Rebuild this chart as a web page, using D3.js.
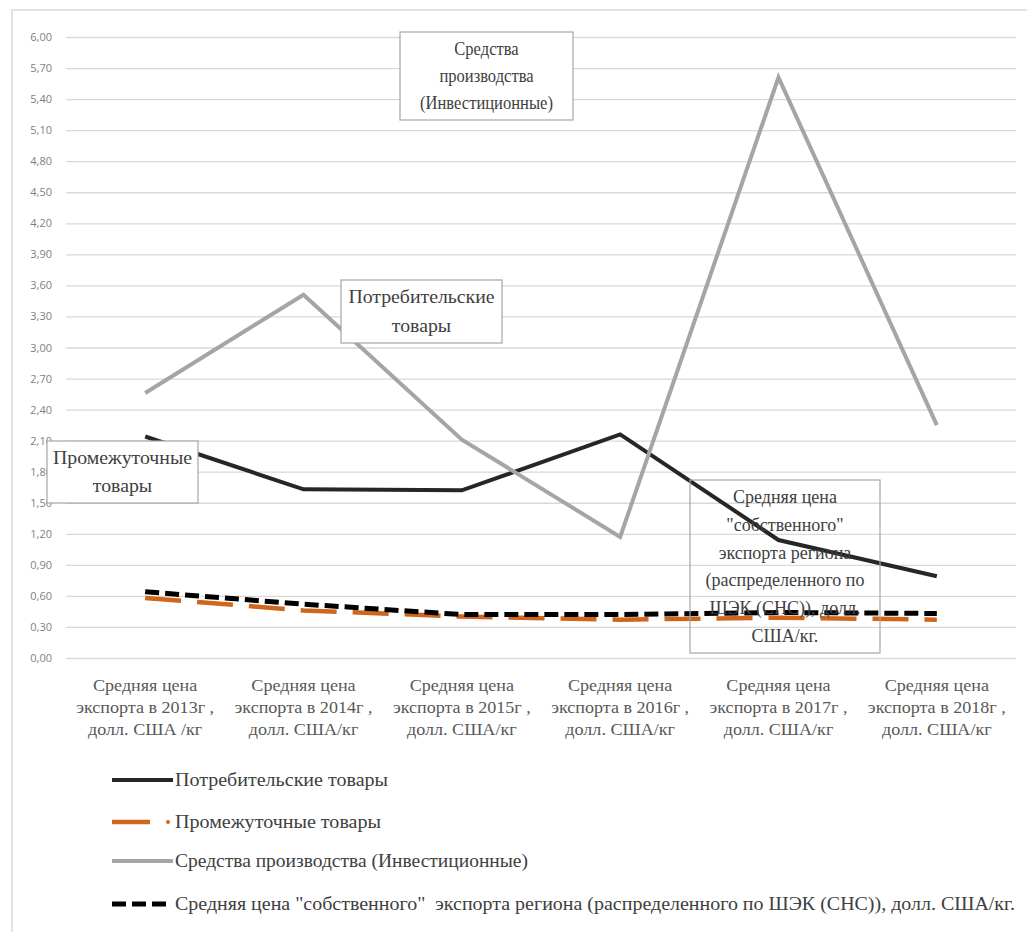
<!DOCTYPE html>
<html>
<head>
<meta charset="utf-8">
<script src="https://cdn.jsdelivr.net/npm/d3@7"></script>
<style>
  body { margin: 0; background: #fff; }
  svg { display: block; }
</style>
</head>
<body>
<svg width="1027" height="932"></svg>
<script>
var years = ["2013", "2014", "2015", "2016", "2017", "2018"];
var catLines = [
  ["Средняя цена", "экспорта в 2013г ,", "долл. США /кг"],
  ["Средняя цена", "экспорта в 2014г ,", "долл. США/кг"],
  ["Средняя цена", "экспорта в 2015г ,", "долл. США/кг"],
  ["Средняя цена", "экспорта в 2016г ,", "долл. США/кг"],
  ["Средняя цена", "экспорта в 2017г ,", "долл. США/кг"],
  ["Средняя цена", "экспорта в 2018г ,", "долл. США/кг"]
];
var consumer = [2.14, 1.63, 1.62, 2.16, 1.14, 0.79];
var intermediate = [0.58, 0.46, 0.40, 0.37, 0.39, 0.37];
var capital = [2.56, 3.51, 2.11, 1.17, 5.61, 2.25];
var average = [0.64, 0.52, 0.42, 0.42, 0.44, 0.43];
var yTicks = d3.range(0, 21).map(function(i) { return +(i * 0.3).toFixed(2); });

var SERIF = "'Liberation Serif', 'Times New Roman'";

var series = [
  {name: "Потребительские товары", values: consumer, color: "#262626", width: 4, dash: null, legW: 213},
  {name: "Промежуточные товары", values: intermediate, color: "#d0651c", width: 4.5, dash: "36,16", legW: 206},
  {name: "Средства производства (Инвестиционные)", values: capital, color: "#a5a5a5", width: 4, dash: null, legW: 353},
  {name: "Средняя цена \"собственного\"  экспорта региона (распределенного по ШЭК (СНС)), долл. США/кг.", values: average, color: "#000", width: 5, dash: "14,6", legW: 840}
];

var svg = d3.select("svg"),
    margin = {top: 37, left: 66, right: 11, bottom: 274},
    width = 1027 - margin.left - margin.right,
    height = 932 - margin.top - margin.bottom;

// chart frame
svg.append("path")
    .attr("d", "M12,932V10H1027")
    .attr("fill", "none")
    .attr("stroke", "#d9d9d9")
    .attr("stroke-width", 1.5);

var x = d3.scaleBand().domain(years).range([0, width]);
var y = d3.scaleLinear().domain([0, 6]).range([height, 0]);

var g = svg.append("g")
    .attr("transform", "translate(" + margin.left + "," + margin.top + ")");

// grid + y axis
var yAxis = d3.axisLeft(y)
    .tickValues(yTicks)
    .tickSize(-width)
    .tickFormat(function(d) { return d3.format(".2f")(d).replace(".", ","); });

g.append("g")
    .attr("class", "axis axis--y")
    .call(yAxis)
    .call(function(s) {
      s.select(".domain").remove();
      s.selectAll(".tick line").attr("stroke", "#d9d9d9").attr("stroke-width", 1.3);
      s.selectAll(".tick text")
        .attr("x", -14)
        .style("font-family", "'Open Sans', 'Liberation Sans', sans-serif")
        .style("font-size", "11px")
        .attr("fill", "#7f7f7f");
    });

// widen text around its centre (source font is wider than Times)
function stretched(sel, cx, k) {
  sel.attr("transform", "translate(" + cx + ",0) scale(" + k + ",1) translate(" + (-cx) + ",0)");
}

// x labels
var xl = g.append("g")
    .attr("transform", "translate(0," + height + ")");
xl.selectAll("text")
    .data(years)
    .enter().append("text")
    .attr("y", 33)
    .attr("text-anchor", "middle")
    .style("font-family", SERIF)
    .style("font-size", "16px")
    .attr("fill", "#595959")
    .each(function(d, i) {
      var cx = x(d) + x.bandwidth() / 2;
      var t = d3.select(this).call(stretched, cx, 1.13);
      catLines[i].forEach(function(line, j) {
        t.append("tspan")
          .attr("x", cx)
          .attr("dy", j === 0 ? 0 : 22)
          .text(line);
      });
    });

var line = d3.line()
    .x(function(d, i) { return x(years[i]) + x.bandwidth() / 2; })
    .y(function(d) { return y(d); });

series.forEach(function(s) {
  g.append("path")
    .datum(s.values)
    .attr("fill", "none")
    .attr("stroke", s.color)
    .attr("stroke-width", s.width)
    .attr("stroke-dasharray", s.dash)
    .attr("d", line);
});

// annotation boxes (text labels placed over the plot)
var notes = [
  {lines: ["Средства", "производства", "(Инвестиционные)"], x0: 400, x1: 573, y0: 32, y1: 120, k: 0.92},
  {lines: ["Потребительские", "товары"], x0: 341, x1: 502, y0: 280, y1: 343, k: 1.1},
  {lines: ["Промежуточные", "товары"], x0: 47, x1: 198, y0: 441, y1: 503, k: 1.1},
  {lines: ["Средняя цена", "\"собственного\"", "экспорта региона", "(распределенного по", "ШЭК (СНС)), долл.", "США/кг."], x0: 690, x1: 880, y0: 480, y1: 653, k: 1.0}
];
notes.forEach(function(n) {
  svg.append("rect")
    .attr("x", n.x0).attr("y", n.y0)
    .attr("width", n.x1 - n.x0).attr("height", n.y1 - n.y0)
    .attr("fill", n.lines.length === 6 ? "none" : "#fff")
    .attr("stroke", "#a6a6a6")
    .attr("stroke-width", 1.2);
  var lh = (n.y1 - n.y0 - 6) / n.lines.length;
  var cx = (n.x0 + n.x1) / 2;
  var t = svg.append("text")
    .attr("text-anchor", "middle")
    .style("font-family", SERIF)
    .style("font-size", "18px")
    .attr("fill", "#404040")
    .call(stretched, cx, n.k);
  n.lines.forEach(function(l, j) {
    t.append("tspan")
      .attr("x", cx)
      .attr("y", n.y0 + 3 + lh * (j + 0.5) + 6)
      .text(l);
  });
});

// legend
var legY = [780, 822, 861, 904];
var leg = svg.append("g");
series.forEach(function(s, i) {
  var row = leg.append("g").attr("transform", "translate(0," + legY[i] + ")");
  if (i === 1) {
    row.append("line").attr("x1", 112).attr("x2", 150).attr("y1", 0).attr("y2", 0)
      .attr("stroke", s.color).attr("stroke-width", s.width);
    row.append("circle").attr("cx", 168).attr("cy", 0).attr("r", 2).attr("fill", s.color);
  } else {
    row.append("line").attr("x1", 112).attr("x2", i === 3 ? 166 : 173).attr("y1", 0).attr("y2", 0)
      .attr("stroke", s.color).attr("stroke-width", s.width)
      .attr("stroke-dasharray", s.dash ? "14,6" : null);
  }
  row.append("text")
    .attr("x", 175).attr("y", 6)
    .attr("textLength", s.legW)
    .attr("lengthAdjust", "spacingAndGlyphs")
    .style("font-family", SERIF)
    .style("font-size", "19px")
    .style("white-space", "pre")
    .attr("fill", "#404040")
    .text(s.name);
});
</script>
</body>
</html>
